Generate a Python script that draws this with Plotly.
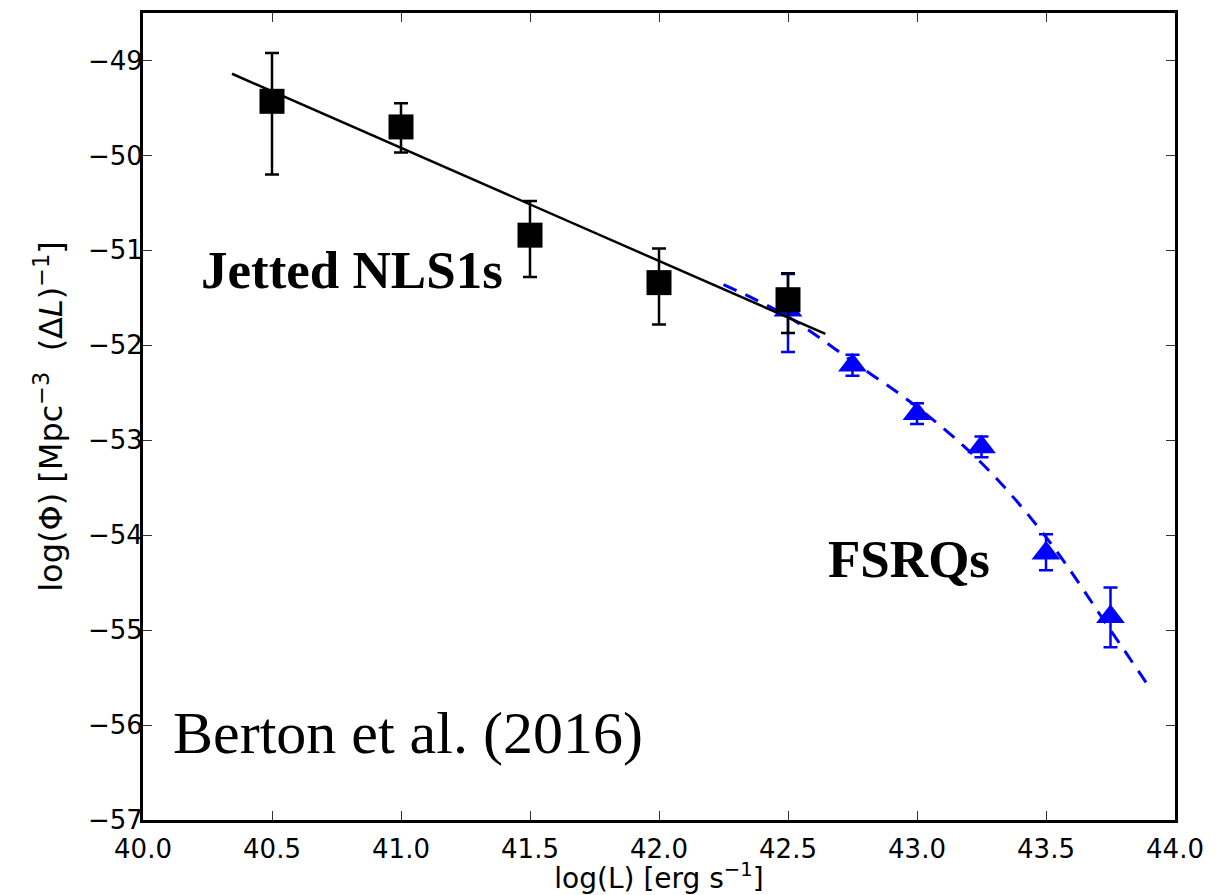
import plotly.graph_objects as go

# Jetted NLS1s (black squares)
nls1_x = [40.5, 41.0, 41.5, 42.0, 42.5]
nls1_y = [-49.43, -49.70, -50.84, -51.34, -51.52]
nls1_err_plus = [0.51, 0.25, 0.36, 0.36, 0.28]
nls1_err_minus = [0.77, 0.27, 0.44, 0.44, 0.35]

# FSRQs (blue triangles)
fsrq_x = [42.5, 42.75, 43.0, 43.25, 43.5, 43.75]
fsrq_y = [-51.63, -52.21, -52.72, -53.07, -54.19, -54.86]
fsrq_err_plus = [0.38, 0.11, 0.11, 0.11, 0.20, 0.31]
fsrq_err_minus = [0.44, 0.11, 0.11, 0.11, 0.18, 0.32]

# Linear fit to NLS1s (black line)
fit_x = [40.345, 42.645]
fit_y = [-49.14, -51.88]

# FSRQ model curve (blue dashed)
curve_x = [42.25, 42.5, 42.75, 43.0, 43.25, 43.5, 43.75, 43.9]
curve_y = [-51.36, -51.70, -52.17, -52.65, -53.24, -54.02, -55.00, -55.60]

x_ticks = [40.0, 40.5, 41.0, 41.5, 42.0, 42.5, 43.0, 43.5, 44.0]
x_tick_text = ["40.0", "40.5", "41.0", "41.5", "42.0", "42.5", "43.0", "43.5", "44.0"]
y_ticks = [-57, -56, -55, -54, -53, -52, -51, -50, -49]
y_tick_text = ["\u221257", "\u221256", "\u221255", "\u221254", "\u221253",
               "\u221252", "\u221251", "\u221250", "\u221249"]

fig = go.Figure()

fig.add_trace(go.Scatter(
    x=curve_x, y=curve_y, mode="lines",
    line=dict(color="#0000ff", width=3, dash="14px,10px", shape="spline"),
    hoverinfo="skip", showlegend=False))

fig.add_trace(go.Scatter(
    x=fsrq_x, y=fsrq_y, mode="markers",
    marker=dict(symbol="triangle-up", size=25, color="#0000ff"),
    error_y=dict(type="data", symmetric=False, array=fsrq_err_plus,
                 arrayminus=fsrq_err_minus, color="#0000ff", thickness=2.5, width=7),
    showlegend=False))

fig.add_trace(go.Scatter(
    x=fit_x, y=fit_y, mode="lines",
    line=dict(color="black", width=2.5),
    hoverinfo="skip", showlegend=False))

fig.add_trace(go.Scatter(
    x=nls1_x, y=nls1_y, mode="markers",
    marker=dict(symbol="square", size=25, color="black"),
    error_y=dict(type="data", symmetric=False, array=nls1_err_plus,
                 arrayminus=nls1_err_minus, color="black", thickness=2.5, width=7),
    showlegend=False))

fig.add_annotation(x=40.811, y=-51.21, text="<b>Jetted NLS1s</b>", showarrow=False,
                   xanchor="center", yanchor="middle",
                   font=dict(family="Liberation Serif", size=53, color="black"))
fig.add_annotation(x=42.969, y=-54.25, text="<b>FSRQs</b>", showarrow=False,
                   xanchor="center", yanchor="middle",
                   font=dict(family="Liberation Serif", size=53, color="black"))
fig.add_annotation(x=41.029, y=-56.08, text="Berton et al. (2016)", showarrow=False,
                   xanchor="center", yanchor="middle",
                   font=dict(family="Liberation Serif", size=60, color="black"))

axis_common = dict(
    showline=True, linewidth=3, linecolor="black", mirror="ticks",
    ticks="inside", ticklen=9, tickwidth=1, tickcolor="#333333",
    showgrid=False, zeroline=False,
    tickfont=dict(family="DejaVu Sans", size=26, color="black"),
)

fig.update_xaxes(range=[40.0, 44.0], tickvals=x_ticks, ticktext=x_tick_text,
                 ticklabelstandoff=4,
                 title=dict(text="log(L) [erg s<sup>\u22121</sup>]",
                            font=dict(family="DejaVu Sans", size=28, color="black"),
                            standoff=12),
                 **axis_common)
fig.update_yaxes(range=[-57, -48.5], tickvals=y_ticks, ticktext=y_tick_text,
                 ticklabelstandoff=-8,
                 title=dict(text="log(\u03a6) [Mpc<sup>\u22123</sup>  (\u0394<i>L</i>)<sup>\u22121</sup>]",
                            font=dict(family="DejaVu Sans", size=32, color="black"),
                            standoff=16),
                 **axis_common)

# page body adds an 8px offset; plot area lands at x 143..1175, y 13..812 on screen
fig.update_layout(
    width=1217, height=887,
    margin=dict(l=135, r=50, t=5, b=75, autoexpand=False),
    plot_bgcolor="white", paper_bgcolor="white",
    showlegend=False,
)

fig.write_html("out.html")
